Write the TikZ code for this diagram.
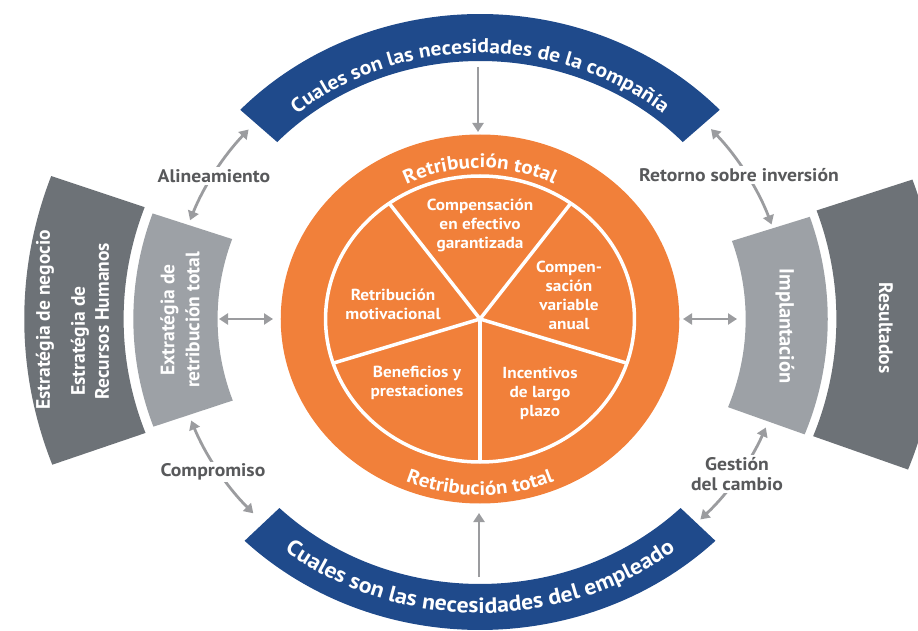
\documentclass[tikz,border=0pt]{standalone}
\usepackage{fontspec}
\setmainfont{PT Sans}[FakeStretch=1.08]
\newfontfamily\boxfont{PT Sans}
\usetikzlibrary{arrows.meta,decorations.text}
\definecolor{bandblue}{RGB}{31,74,139}
\definecolor{ringorange}{RGB}{241,128,58}
\definecolor{darkgreybox}{RGB}{109,114,119}
\definecolor{lightgreybox}{RGB}{157,161,166}
\definecolor{arrowgrey}{RGB}{155,156,159}
\definecolor{labelgrey}{RGB}{88,89,91}
\newcommand\annsec[5]{%
  \fill[#1] (#2:#4) arc[start angle=#2,end angle=#3,radius=#4] -- (#3:#5) arc[start angle=#3,end angle=#2,radius=#5] -- cycle;}
\begin{document}
\begin{tikzpicture}[x=1pt,y=1pt,
  arrowtip/.tip={Triangle[length=9pt,width=11pt]},
  conn/.style={draw=arrowgrey,line width=2.8pt,arrowtip-arrowtip},
  oneway/.style={draw=arrowgrey,line width=2.8pt,-arrowtip},
  pietext/.style={text=white,font=\bfseries\fontsize{16}{19}\selectfont,align=center,inner sep=0pt},
  boxtext/.style={text=white,font=\boxfont\bfseries\fontsize{19.5}{25}\selectfont,align=center,inner sep=0pt},
  lbl/.style={text=labelgrey,font=\bfseries\fontsize{18.2}{20}\selectfont,align=center,fill=white,inner sep=2pt}]
\useasboundingbox (0,0) rectangle (918,630);
\begin{scope}[shift={(480,311)},xscale=1.08]
  % blue bands
  \annsec{bandblue}{43.3}{136.7}{258}{305}
  \annsec{bandblue}{225.5}{314.5}{265}{311}
  % grey boxes
  \annsec{lightgreybox}{160.8}{199.6}{243}{321}
  \annsec{darkgreybox}{160.2}{200.2}{330}{422}
  \annsec{lightgreybox}{-21}{18.5}{246}{322}
  \annsec{darkgreybox}{-20.8}{19.2}{330}{424}
  % orange pie
  \fill[ringorange] (0,0) circle[radius=184.5];
  \draw[white,line width=3.5pt] (0,0) circle[radius=143];
  \coordinate (pc) at (0,0);
  \foreach \a in {54,126,198,270,342} \draw[white,line width=3.5pt] (pc) -- (\a:143);
  % curved texts
  \path[decorate,decoration={text along path,text align=center,text color=white,
    text={|\bfseries\fontsize{20}{20}\selectfont|Cuales son las necesidades de la compañía}}]
    (136:266) arc[start angle=136,end angle=44,radius=266];
  \path[decorate,decoration={text along path,text align=center,text color=white,
    text={|\bfseries\fontsize{22}{22}\selectfont|Cuales son las necesidades del empleado}}]
    (226:294) arc[start angle=226,end angle=314,radius=294];
  \path[decorate,decoration={text along path,text align=center,text color=white,
    text={|\bfseries\fontsize{19.5}{19.5}\selectfont|Retribución total}}]
    (150:151) arc[start angle=150,end angle=30,radius=151];
  \path[decorate,decoration={text along path,text align=center,text color=white,
    text={|\bfseries\fontsize{19.5}{19.5}\selectfont|Retribución total}}]
    (210:176) arc[start angle=210,end angle=330,radius=176];
  % arc connectors
  \coordinate (alS) at (138.5:286); \coordinate (alE) at (159.8:286);
  \draw[conn] (alS) arc[start angle=138.5,end angle=159.8,radius=286];
  \coordinate (coS) at (200.8:286); \coordinate (coE) at (222.8:286);
  \draw[conn] (coS) arc[start angle=200.8,end angle=222.8,radius=286];
  \coordinate (reS) at (41.6:286); \coordinate (reE) at (19.3:286);
  \draw[conn] (reS) arc[start angle=41.6,end angle=19.3,radius=286];
  \coordinate (geS) at (-22.3:286); \coordinate (geE) at (-44.5:286);
  \draw[conn] (geS) arc[start angle=-22.3,end angle=-44.5,radius=286];
\end{scope}
% straight arrows
\coordinate (topA) at (478,563); \coordinate (topB) at (478,498);
\draw[oneway] (topA) -- (topB);
\coordinate (botA) at (479,53); \coordinate (botB) at (479,117);
\draw[oneway] (botA) -- (botB);
\coordinate (leftA) at (219,311); \coordinate (leftB) at (273,311);
\draw[conn] (leftA) -- (leftB);
\coordinate (rightA) at (683,311); \coordinate (rightB) at (737,311);
\draw[conn] (rightA) -- (rightB);
% pie texts
\node[pietext] (pC) at (480,405) {Compensación\\en efectivo\\garantizada};
\node[pietext] (pV) at (569,335) {Compen-\\sación\\variable\\anual};
\node[pietext] (pM) at (393,326) {Retribución\\motivacional};
\node[pietext] (pB) at (417,247) {Beneficios y\\prestaciones};
\node[pietext] (pI) at (540,237) {Incentivos\\de largo\\plazo};
% grey box texts
\node[boxtext,rotate=90] (tN) at (45,310) {Estratégia de negocio};
\node[boxtext,rotate=90] (tE) at (80,289) {Estratégia de};
\node[boxtext,rotate=90] (tR) at (102,309) {Recursos Humanos};
\node[boxtext,rotate=90] (tX) at (180,310) {Extratégia de\\retribución total};
\node[boxtext,rotate=-90,font=\boxfont\bfseries\fontsize{20.5}{25}\selectfont] (tI) at (785,304) {Implantación};
\node[boxtext,rotate=-90] (tS) at (886,302) {Resultados};
% connector labels
\node[lbl] (lA) at (214,454) {Alineamiento};
\node[lbl] (lC) at (213,158) {Compromiso};
\node[lbl] (lR) at (739,455) {Retorno sobre inversión};
\node[lbl] (lG) at (737,156) {Gestión\\del cambio};
\end{tikzpicture}
\end{document}
